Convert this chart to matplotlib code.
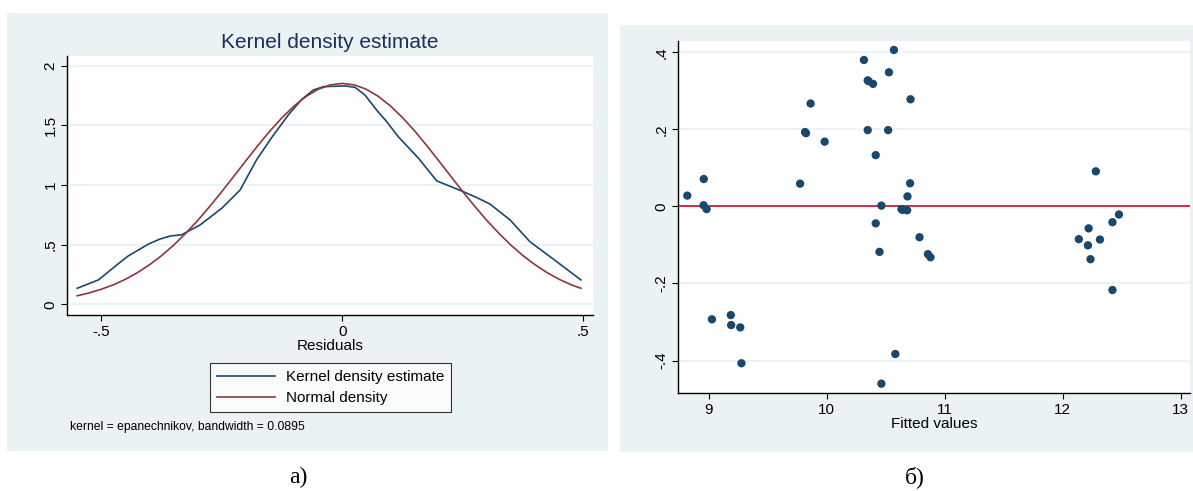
import matplotlib
matplotlib.use("Agg")
import matplotlib.pyplot as plt
from matplotlib.patches import Rectangle

plt.rcParams['font.family'] = ['Liberation Sans', 'DejaVu Sans']

# --- panel a): kernel density of residuals ---
kde_x = [-0.550, -0.506, -0.489, -0.468, -0.444, -0.402, -0.378, -0.357, -0.333,
         -0.295, -0.250, -0.212, -0.178, -0.146, -0.112, -0.084, -0.060, -0.039,
         -0.025, 0.006, 0.026, 0.047, 0.071, 0.092, 0.116, 0.158, 0.196, 0.251,
         0.279, 0.306, 0.348, 0.389, 0.431, 0.495]
kde_y = [0.134, 0.204, 0.260, 0.329, 0.405, 0.505, 0.547, 0.572, 0.583,
         0.665, 0.805, 0.958, 1.210, 1.400, 1.587, 1.718, 1.796, 1.824,
         1.826, 1.830, 1.819, 1.754, 1.629, 1.531, 1.405, 1.224, 1.034, 0.944,
         0.894, 0.841, 0.707, 0.525, 0.399, 0.204]

norm_x = [-0.55, -0.525, -0.50, -0.475, -0.45, -0.425, -0.40, -0.375, -0.35, -0.325,
          -0.30, -0.275, -0.25, -0.225, -0.20, -0.175, -0.15, -0.125, -0.10, -0.075,
          -0.05, -0.025, 0.00, 0.025, 0.05, 0.075, 0.10, 0.125, 0.15, 0.175,
          0.20, 0.225, 0.25, 0.275, 0.30, 0.325, 0.35, 0.375, 0.40, 0.425,
          0.45, 0.475, 0.495]
norm_y = [0.071, 0.095, 0.126, 0.163, 0.209, 0.265, 0.331, 0.407, 0.495, 0.594,
          0.702, 0.820, 0.944, 1.073, 1.203, 1.331, 1.453, 1.564, 1.662, 1.742,
          1.802, 1.839, 1.851, 1.839, 1.802, 1.742, 1.662, 1.564, 1.453, 1.331,
          1.203, 1.073, 0.944, 0.820, 0.702, 0.594, 0.495, 0.407, 0.331, 0.265,
          0.209, 0.163, 0.134]

a_xticks = [-0.5, 0, 0.5]
a_xlabels = ['-.5', '0', '.5']
a_yticks = [0, 0.5, 1, 1.5, 2]
a_ylabels = ['0', '.5', '1', '1.5', '2']

# --- panel b): residuals vs fitted ---
fitted = [8.82, 8.96, 8.958, 8.984, 9.029, 9.189, 9.192, 9.269, 9.279,
          9.776, 9.818, 9.826, 9.865, 9.984,
          10.317, 10.349, 10.356, 10.394, 10.349, 10.417, 10.522, 10.529, 10.571,
          10.712, 10.708, 10.686, 10.465, 10.635, 10.644, 10.683, 10.417, 10.449,
          10.788, 10.859, 10.881, 10.583, 10.465,
          12.282, 12.478, 12.423, 12.221, 12.138, 12.317, 12.215, 12.237, 12.423]
resid = [0.028, 0.071, 0.003, -0.007, -0.293, -0.282, -0.308, -0.314, -0.407,
         0.059, 0.193, 0.190, 0.267, 0.168,
         0.380, 0.327, 0.325, 0.318, 0.198, 0.133, 0.198, 0.348, 0.406,
         0.278, 0.060, 0.026, 0.002, -0.007, -0.009, -0.010, -0.044, -0.118,
         -0.080, -0.124, -0.132, -0.383, -0.460,
         0.091, -0.021, -0.041, -0.057, -0.085, -0.086, -0.101, -0.137, -0.217]

b_xticks = [9, 10, 11, 12, 13]
b_yticks = [-0.4, -0.2, 0, 0.2, 0.4]
b_ylabels = ['-.4', '-.2', '0', '.2', '.4']

W, H = 1193, 491
BG = '#EAF2F3'
NAVY = '#1A476F'
MAROON = '#90353B'

fig = plt.figure(figsize=(W / 100, H / 100), dpi=100)
fig.patch.set_facecolor('white')


def px_rect(x0, y0, x1, y1):
    # image pixel box -> figure fraction [left, bottom, width, height]
    return [x0 / W, 1 - y1 / H, (x1 - x0) / W, (y1 - y0) / H]


# panel backgrounds
for x0, y0, x1, y1 in [(7, 13, 608, 451), (620, 25, 1193, 452)]:
    l, b, w, h = px_rect(x0, y0, x1, y1)
    fig.patches.append(Rectangle((l, b), w, h, transform=fig.transFigure,
                                 facecolor=BG, edgecolor='none', zorder=-10))


def style_axes(ax):
    ax.set_zorder(2)
    ax.set_facecolor('white')
    for s in ['top', 'right']:
        ax.spines[s].set_visible(False)
    for s in ['left', 'bottom']:
        ax.spines[s].set_color('black')
        ax.spines[s].set_linewidth(1.0)
    ax.tick_params(axis='both', length=4, width=0.8, labelsize=11, pad=3)
    ax.grid(axis='y', color=BG, linewidth=1.2)
    ax.set_axisbelow(True)
    for lab in ax.get_yticklabels():
        lab.set_rotation(90)
        lab.set_va('center')


# ---- left ----
ax1 = fig.add_axes(px_rect(67.3, 56, 593.3, 315))
k_line, = ax1.plot(kde_x, kde_y, color=NAVY, lw=1.2)
n_line, = ax1.plot(norm_x, norm_y, color=MAROON, lw=1.2)
ax1.set_xlim(-0.5705, 0.5207)
ax1.set_ylim(-0.09, 2.081)
ax1.set_xticks(a_xticks)
ax1.set_xticklabels(a_xlabels)
ax1.set_yticks(a_yticks)
ax1.set_yticklabels(a_ylabels)
style_axes(ax1)
ax1.set_xlabel('Residuals', fontsize=11, labelpad=0)
fig.text(330 / W, 1 - 42 / H, 'Kernel density estimate', ha='center', va='center',
         fontsize=15, color='#1C2E5A', zorder=3)
leg = ax1.legend([k_line, n_line], ['Kernel density estimate', 'Normal density'],
                 loc='center', bbox_to_anchor=(330.8 / W, 1 - 387.5 / H),
                 bbox_transform=fig.transFigure, fontsize=11, frameon=True,
                 fancybox=False, edgecolor='black', handlelength=3.8,
                 handletextpad=0.7, borderpad=0.45, labelspacing=0.45)
leg.get_frame().set_linewidth(0.8)
fig.text(70 / W, 1 - 427 / H, 'kernel = epanechnikov, bandwidth = 0.0895',
         ha='left', va='center', fontsize=8.7, zorder=3)

# ---- right ----
ax2 = fig.add_axes(px_rect(678.3, 40.7, 1190, 393.3))
ax2.scatter(fitted, resid, s=36, color=NAVY, edgecolors='none', zorder=3)
ax2.axhline(0, color='#D7193F', lw=1.3, zorder=2)
ax2.set_xlim(8.744, 13.08)
ax2.set_ylim(-0.485, 0.430)
ax2.set_xticks(b_xticks)
ax2.set_yticks(b_yticks)
ax2.set_yticklabels(b_ylabels)
style_axes(ax2)
ax2.set_xlabel('Fitted values', fontsize=11, labelpad=0)

# captions
fig.text(298 / W, 1 - 477 / H, 'а)', ha='center', va='center', fontsize=17,
         family=['Liberation Serif', 'DejaVu Serif'])
fig.text(915 / W, 1 - 477 / H, 'б)', ha='center', va='center', fontsize=17,
         family=['Liberation Serif', 'DejaVu Serif'])

fig.savefig('out.png', dpi=100, facecolor='white')
